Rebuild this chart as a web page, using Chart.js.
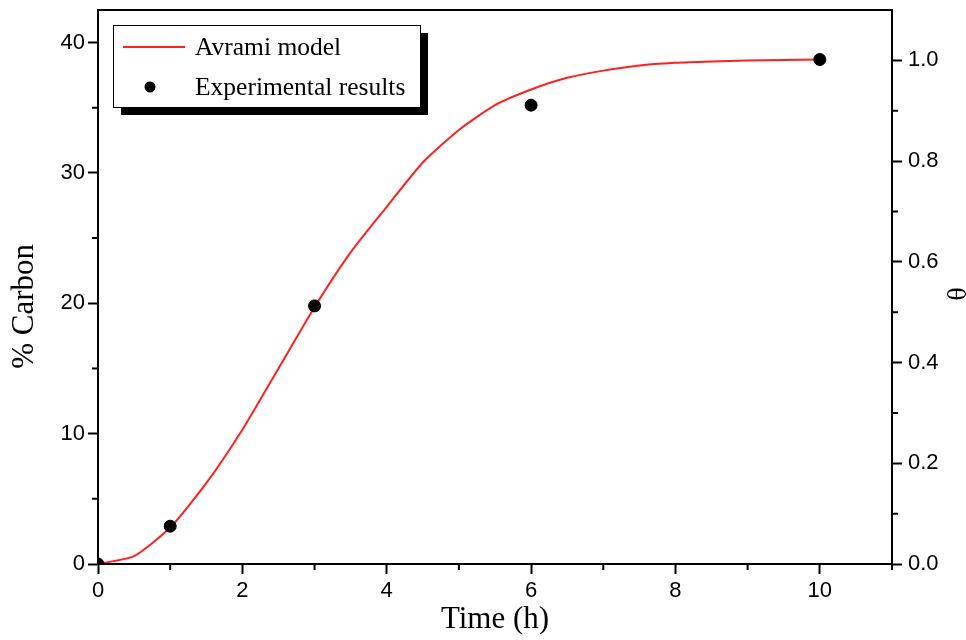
<!DOCTYPE html>
<html>
<head>
<meta charset="utf-8">
<script src="https://cdn.jsdelivr.net/npm/chart.js@4/dist/chart.umd.min.js"></script>
<style>
  html, body { margin: 0; padding: 0; background: #fff; }
  canvas { display: block; }
</style>
</head>
<body>
<canvas id="c" width="966" height="640"></canvas>
<script>
// ---- data ----
const modelTime   = [0, 0.5, 1, 1.5, 2, 2.5, 3, 3.5, 4, 4.5, 5, 5.5, 6, 6.5, 7, 7.5, 8, 8.5, 9, 9.5, 10];
const modelCarbon = [0, 0.6, 2.8, 6.2, 10.3, 15.0, 19.7, 23.9, 27.4, 30.8, 33.3, 35.2, 36.4, 37.3, 37.85, 38.25, 38.45, 38.55, 38.62, 38.66, 38.7];
const expTime     = [0, 1, 3, 6, 10];
const expCarbon   = [0, 2.9, 19.8, 35.2, 38.7];

const xTicks      = [0, 2, 4, 6, 8, 10];
const xMinor      = [1, 3, 5, 7, 9, 11];
const yTicks      = [0, 10, 20, 30, 40];
const yMinor      = [5, 15, 25, 35];
const thetaTicks  = [0, 0.2, 0.4, 0.6, 0.8, 1.0];
const thetaMinor  = [0.1, 0.3, 0.5, 0.7, 0.9];

const seriesNames = ['Avrami model', 'Experimental results'];
const xTitle = 'Time (h)';
const yTitle = '% Carbon     ';
const y1Title = '  θ';

const xRange = [0, 11];
const yRange = [0, 42.5];
const thetaRange = [0, 1.1];

// ---- chart ----
const tickFont = { family: 'Liberation Sans, Arial, sans-serif', size: 22 };
const titleFont = { family: 'Liberation Serif, Times New Roman, serif', size: 31 };

const setTicks = arr => scale => { scale.ticks = arr.map(v => ({ value: v })); };

const frameAndMinor = {
  id: 'frameAndMinor',
  afterDraw(chart) {
    const ctx = chart.ctx, a = chart.chartArea;
    ctx.save();
    ctx.strokeStyle = '#000';
    ctx.lineWidth = 2;
    // top border
    ctx.beginPath();
    ctx.moveTo(a.left - 1, a.top);
    ctx.lineTo(a.right + 1, a.top);
    ctx.stroke();
    const len = 6;
    const sx = chart.scales.x, sy = chart.scales.y, sy1 = chart.scales.y1;
    ctx.beginPath();
    xMinor.forEach(v => { const p = sx.getPixelForValue(v); ctx.moveTo(p, a.bottom); ctx.lineTo(p, a.bottom + len); });
    yMinor.forEach(v => { const p = sy.getPixelForValue(v); ctx.moveTo(a.left, p); ctx.lineTo(a.left - len, p); });
    thetaMinor.forEach(v => { const p = sy1.getPixelForValue(v); ctx.moveTo(a.right, p); ctx.lineTo(a.right + len, p); });
    ctx.stroke();

    // legend box with shadow
    const bx = a.left + 15, by = a.top + 15, bw = 307, bh = 82, sh = 8;
    ctx.fillStyle = '#000';
    ctx.fillRect(bx + sh, by + sh, bw, bh);
    ctx.fillStyle = '#fff';
    ctx.fillRect(bx, by, bw, bh);
    ctx.lineWidth = 1;
    ctx.strokeStyle = '#000';
    ctx.strokeRect(bx + 0.5, by + 0.5, bw, bh);
    // entries
    const ds = chart.data.datasets;
    ctx.font = '25.5px "Liberation Serif", "Times New Roman", serif';
    ctx.textBaseline = 'middle';
    ctx.fillStyle = '#000';
    const r1 = by + 22, r2 = by + 62;
    ctx.strokeStyle = ds[0].borderColor;
    ctx.lineWidth = 2;
    ctx.beginPath(); ctx.moveTo(bx + 10, r1); ctx.lineTo(bx + 72, r1); ctx.stroke();
    ctx.fillText(ds[0].label, bx + 82, r1 + 1);
    ctx.fillStyle = ds[1].backgroundColor;
    ctx.beginPath(); ctx.arc(bx + 37, r2, 5.5, 0, Math.PI * 2); ctx.fill();
    ctx.fillStyle = '#000';
    ctx.fillText(ds[1].label, bx + 82, r2 + 1);
    ctx.restore();
  }
};

new Chart(document.getElementById('c'), {
  type: 'scatter',
  data: {
    datasets: [
      {
        label: seriesNames[0],
        type: 'line',
        data: modelTime.map((t, i) => ({ x: t, y: modelCarbon[i] })),
        borderColor: '#ff2020',
        borderWidth: 2,
        pointRadius: 0,
        tension: 0.2,
        fill: false,
        yAxisID: 'y',
        order: 2
      },
      {
        label: seriesNames[1],
        data: expTime.map((t, i) => ({ x: t, y: expCarbon[i] })),
        backgroundColor: '#000',
        borderColor: '#000',
        pointRadius: 6,
        pointHoverRadius: 6,
        yAxisID: 'y',
        order: 1
      }
    ]
  },
  options: {
    responsive: false,
    animation: false,
    devicePixelRatio: 1,
    layout: { padding: { top: 10, left: 0, right: 0, bottom: 0 } },
    plugins: { legend: { display: false }, tooltip: { enabled: false } },
    scales: {
      x: {
        type: 'linear',
        min: xRange[0], max: xRange[1],
        afterBuildTicks: setTicks(xTicks),
        afterFit: s => { s.height = 76; s.paddingLeft = 0; s.paddingRight = 0; },
        ticks: { font: tickFont, color: '#000', padding: 4, maxRotation: 0 },
        grid: { drawOnChartArea: false, tickLength: 10, tickWidth: 2, tickColor: '#000' },
        border: { display: true, color: '#000', width: 2 },
        title: { display: true, text: xTitle, font: titleFont, color: '#000', padding: { top: 0, bottom: 2 } }
      },
      y: {
        type: 'linear', position: 'left',
        min: yRange[0], max: yRange[1],
        afterBuildTicks: setTicks(yTicks),
        afterFit: s => { s.width = 98; s.paddingTop = 0; s.paddingBottom = 0; },
        ticks: { font: tickFont, color: '#000', padding: 3 },
        grid: { drawOnChartArea: false, tickLength: 10, tickWidth: 2, tickColor: '#000' },
        border: { display: true, color: '#000', width: 2 },
        title: { display: true, text: yTitle, font: titleFont, color: '#000', padding: { top: 6, bottom: 0 } }
      },
      y1: {
        type: 'linear', position: 'right',
        min: thetaRange[0], max: thetaRange[1],
        afterBuildTicks: setTicks(thetaTicks),
        afterFit: s => { s.width = 74; s.paddingTop = 0; s.paddingBottom = 0; },
        ticks: { font: tickFont, color: '#000', padding: 6, callback: v => v.toFixed(1) },
        grid: { drawOnChartArea: false, tickLength: 10, tickWidth: 2, tickColor: '#000' },
        border: { display: true, color: '#000', width: 2 },
        title: { display: true, text: y1Title, font: { family: 'Liberation Serif, Times New Roman, serif', size: 28, lineHeight: 0.8 }, color: '#000', padding: { top: 0, bottom: 0 } }
      }
    }
  },
  plugins: [frameAndMinor]
});
</script>
</body>
</html>
